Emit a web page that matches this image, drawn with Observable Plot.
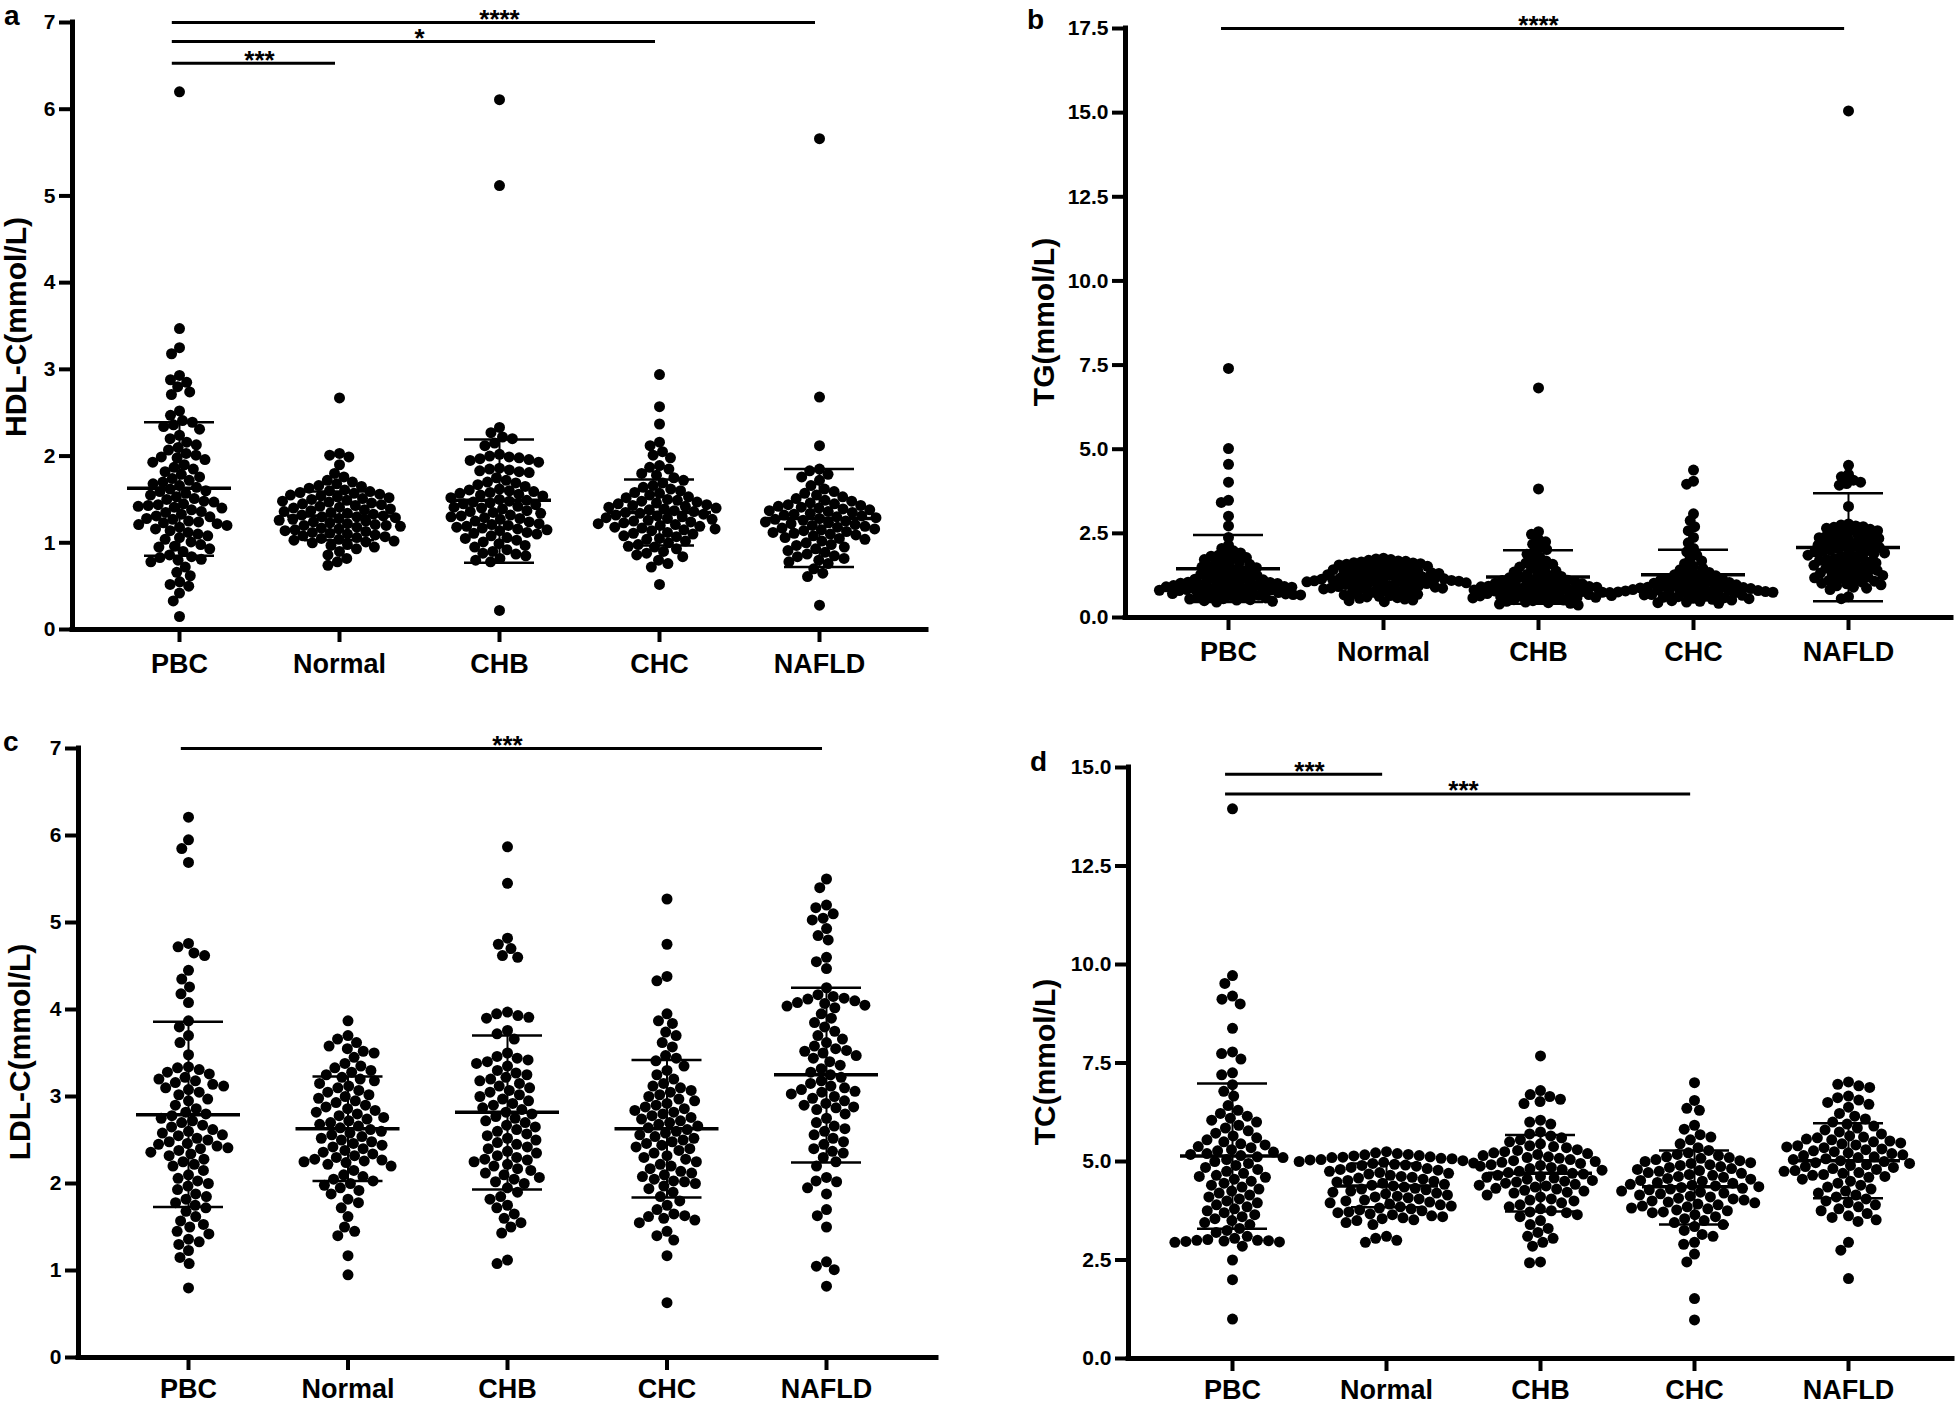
<!DOCTYPE html>
<html><head><meta charset="utf-8">
<script src="https://cdn.jsdelivr.net/npm/d3@7"></script>
<script src="https://cdn.jsdelivr.net/npm/@observablehq/plot@0.6"></script>
<style>
body{margin:0;background:#fff;}
#fig{position:relative;width:1959px;height:1404px;background:#fff;font-family:"Liberation Sans",Arial,sans-serif;font-weight:bold;color:#000;overflow:hidden;}
.panel{position:absolute;}
.panel svg{position:absolute;left:0;top:0;overflow:visible;}
.lbl{position:absolute;font-size:28px;line-height:0.8;}
.ytitle{position:absolute;font-size:30px;line-height:1;white-space:nowrap;transform:translate(-50%,-50%) rotate(-90deg);}
.axes g[aria-label="y-axis tick"] path,.axes g[aria-label="x-axis tick"] path{stroke-width:4px;}
</style></head><body><div id="fig"></div>
<script>
const groups = ["PBC","Normal","CHB","CHC","NAFLD"];

// ---- a: HDL-C ----
const hdl_PBC = [6.20,3.47,3.25,3.18,2.93,2.88,2.85,2.80,2.74,2.71,2.52,2.47,2.41,2.39,2.36,2.34,2.31,2.24,2.20,2.16,2.13,2.10,2.07,2.03,2.01,1.99,1.98,1.96,1.93,1.90,1.87,1.85,1.82,1.79,1.76,1.74,1.72,1.70,1.68,1.66,1.64,1.62,1.60,1.59,1.57,1.55,1.53,1.51,1.50,1.48,1.47,1.45,1.44,1.43,1.42,1.41,1.40,1.38,1.36,1.35,1.33,1.31,1.30,1.28,1.27,1.25,1.24,1.23,1.22,1.21,1.20,1.18,1.16,1.14,1.12,1.10,1.08,1.06,1.04,1.01,0.98,0.96,0.95,0.93,0.90,0.86,0.84,0.83,0.81,0.80,0.78,0.72,0.66,0.62,0.55,0.52,0.50,0.42,0.33,0.15];
const hdl_Normal = [2.67,2.03,2.01,1.99,1.90,1.80,1.76,1.72,1.70,1.68,1.66,1.65,1.63,1.61,1.60,1.59,1.58,1.57,1.56,1.55,1.54,1.53,1.52,1.51,1.50,1.49,1.48,1.47,1.46,1.45,1.44,1.43,1.42,1.41,1.40,1.39,1.38,1.37,1.36,1.35,1.34,1.33,1.32,1.31,1.30,1.30,1.29,1.28,1.27,1.26,1.25,1.24,1.23,1.22,1.21,1.20,1.20,1.19,1.18,1.17,1.16,1.15,1.14,1.13,1.12,1.11,1.10,1.09,1.08,1.07,1.06,1.05,1.04,1.03,1.02,1.01,1.00,0.98,0.97,0.95,0.93,0.90,0.86,0.82,0.78,0.74];
const hdl_CHB = [6.11,5.12,2.33,2.27,2.22,2.20,2.15,2.12,2.02,2.00,1.99,1.98,1.97,1.96,1.95,1.93,1.86,1.85,1.84,1.83,1.82,1.81,1.75,1.72,1.70,1.69,1.67,1.65,1.62,1.61,1.60,1.59,1.58,1.57,1.56,1.55,1.54,1.52,1.50,1.49,1.48,1.47,1.46,1.45,1.44,1.42,1.41,1.40,1.39,1.37,1.36,1.35,1.34,1.32,1.31,1.30,1.29,1.28,1.27,1.25,1.24,1.22,1.21,1.20,1.19,1.18,1.17,1.16,1.15,1.14,1.12,1.11,1.10,1.08,1.06,1.05,1.03,1.01,0.99,0.97,0.95,0.92,0.90,0.88,0.87,0.85,0.82,0.80,0.78,0.22];
const hdl_CHC = [2.94,2.57,2.37,2.16,2.12,2.05,2.01,1.98,1.89,1.87,1.85,1.80,1.78,1.75,1.72,1.69,1.66,1.64,1.62,1.60,1.58,1.57,1.55,1.53,1.52,1.50,1.49,1.48,1.47,1.46,1.45,1.44,1.43,1.42,1.41,1.40,1.39,1.38,1.37,1.36,1.35,1.34,1.33,1.32,1.31,1.30,1.29,1.28,1.27,1.26,1.25,1.24,1.23,1.22,1.21,1.20,1.19,1.18,1.17,1.16,1.15,1.14,1.12,1.11,1.10,1.08,1.07,1.05,1.04,1.02,1.00,0.98,0.96,0.95,0.93,0.90,0.88,0.86,0.84,0.80,0.76,0.72,0.52];
const hdl_NAFLD = [5.66,2.68,2.12,1.85,1.83,1.79,1.76,1.72,1.66,1.62,1.59,1.57,1.55,1.53,1.51,1.49,1.48,1.46,1.45,1.44,1.43,1.42,1.41,1.40,1.39,1.38,1.37,1.36,1.35,1.34,1.33,1.32,1.31,1.30,1.29,1.28,1.27,1.26,1.25,1.24,1.23,1.22,1.21,1.20,1.19,1.18,1.17,1.16,1.15,1.14,1.13,1.12,1.11,1.10,1.09,1.08,1.06,1.05,1.04,1.02,1.00,0.98,0.97,0.95,0.93,0.91,0.89,0.87,0.85,0.84,0.82,0.80,0.78,0.76,0.70,0.65,0.61,0.28];
const hdl_mean  = [1.63,1.31,1.49,1.35,1.28];
const hdl_upper = [2.39,1.59,2.19,1.73,1.85];
const hdl_lower = [0.85,1.03,0.77,0.97,0.72];
const hdl_sig = [{from:0,to:4,y:7.00,label:"****"},{from:0,to:3,y:6.78,label:"*"},{from:0,to:1,y:6.53,label:"***"}];

// ---- b: TG ----
const tg_PBC = [7.40,5.02,4.55,4.02,3.48,3.42,3.01,2.72,2.38,2.15,2.05,1.98,1.92,1.88,1.85,1.82,1.78,1.75,1.72,1.68,1.65,1.62,1.58,1.55,1.52,1.50,1.48,1.45,1.42,1.40,1.38,1.35,1.32,1.30,1.28,1.25,1.22,1.20,1.18,1.16,1.14,1.12,1.10,1.08,1.06,1.05,1.04,1.02,1.01,1.00,0.99,0.98,0.96,0.95,0.94,0.92,0.91,0.90,0.88,0.87,0.86,0.85,0.84,0.83,0.82,0.81,0.80,0.78,0.77,0.76,0.75,0.74,0.72,0.71,0.70,0.68,0.67,0.66,0.65,0.63,0.62,0.60,0.58,0.56,0.55,0.53,0.52,0.50,0.48,0.46];
const tg_Normal = [1.76,1.74,1.72,1.70,1.68,1.67,1.65,1.63,1.62,1.60,1.58,1.56,1.55,1.53,1.52,1.50,1.48,1.47,1.45,1.44,1.42,1.40,1.39,1.37,1.36,1.34,1.33,1.31,1.30,1.28,1.27,1.25,1.24,1.22,1.21,1.20,1.19,1.18,1.17,1.16,1.15,1.14,1.13,1.12,1.11,1.10,1.09,1.08,1.07,1.06,1.05,1.04,1.03,1.02,1.01,1.00,0.99,0.98,0.96,0.95,0.94,0.92,0.91,0.90,0.88,0.87,0.85,0.84,0.82,0.80,0.79,0.77,0.75,0.73,0.71,0.69,0.67,0.65,0.63,0.61,0.59,0.57,0.55,0.52,0.50,0.47];
const tg_CHB = [6.82,3.82,2.55,2.47,2.32,2.25,2.18,2.10,2.02,1.95,1.88,1.80,1.72,1.68,1.62,1.58,1.55,1.50,1.46,1.42,1.38,1.35,1.32,1.28,1.25,1.22,1.20,1.18,1.15,1.13,1.11,1.10,1.08,1.06,1.05,1.03,1.02,1.00,0.99,0.97,0.96,0.95,0.93,0.92,0.91,0.90,0.88,0.87,0.86,0.85,0.84,0.83,0.82,0.80,0.79,0.78,0.77,0.76,0.75,0.74,0.72,0.71,0.70,0.69,0.68,0.66,0.65,0.64,0.63,0.62,0.60,0.59,0.58,0.56,0.55,0.53,0.52,0.50,0.48,0.46,0.44,0.42,0.40,0.37];
const tg_CHC = [4.38,4.05,3.96,3.08,2.88,2.70,2.58,2.38,2.22,2.05,1.95,1.85,1.75,1.68,1.60,1.52,1.46,1.42,1.38,1.34,1.30,1.27,1.24,1.21,1.18,1.16,1.14,1.12,1.10,1.08,1.06,1.04,1.02,1.00,0.98,0.97,0.95,0.94,0.92,0.91,0.90,0.89,0.88,0.87,0.86,0.85,0.84,0.83,0.82,0.81,0.80,0.79,0.78,0.77,0.76,0.75,0.74,0.73,0.72,0.71,0.70,0.68,0.67,0.66,0.65,0.63,0.62,0.60,0.59,0.57,0.56,0.54,0.52,0.50,0.48,0.46,0.44,0.42];
const tg_NAFLD = [15.05,4.52,4.25,4.18,4.08,4.02,3.98,3.93,3.30,2.78,2.75,2.72,2.70,2.68,2.65,2.62,2.58,2.55,2.52,2.50,2.47,2.45,2.42,2.40,2.37,2.35,2.32,2.30,2.28,2.25,2.22,2.20,2.18,2.15,2.12,2.10,2.08,2.05,2.03,2.01,1.99,1.97,1.95,1.92,1.90,1.88,1.85,1.82,1.80,1.78,1.75,1.72,1.70,1.67,1.64,1.62,1.60,1.57,1.55,1.52,1.50,1.47,1.45,1.42,1.40,1.37,1.35,1.32,1.30,1.27,1.25,1.22,1.20,1.18,1.15,1.12,1.10,1.08,1.05,1.02,1.00,0.97,0.94,0.90,0.87,0.83,0.62,0.56];
const tg_mean  = [1.45,1.15,1.20,1.27,2.08];
const tg_upper = [2.45,1.45,2.00,2.01,3.69];
const tg_lower = [0.46,0.85,0.41,0.53,0.48];
const tg_sig = [{from:0,to:4,y:17.5,label:"****"}];

// ---- c: LDL-C ----
const ldl_PBC = [6.21,5.95,5.85,5.69,4.76,4.72,4.65,4.62,4.45,4.35,4.26,4.18,4.08,3.87,3.80,3.70,3.62,3.48,3.34,3.33,3.31,3.28,3.26,3.22,3.20,3.18,3.16,3.14,3.12,3.10,3.08,3.05,3.02,2.97,2.95,2.90,2.86,2.82,2.80,2.78,2.75,2.72,2.70,2.67,2.65,2.62,2.60,2.58,2.56,2.55,2.52,2.50,2.48,2.46,2.45,2.43,2.41,2.40,2.38,2.36,2.34,2.32,2.28,2.25,2.22,2.20,2.15,2.10,2.06,2.03,2.00,1.97,1.93,1.88,1.85,1.82,1.78,1.75,1.72,1.68,1.62,1.57,1.53,1.50,1.45,1.42,1.36,1.33,1.30,1.23,1.15,1.08,0.80];
const ldl_Normal = [3.87,3.70,3.66,3.62,3.58,3.55,3.52,3.50,3.45,3.38,3.35,3.33,3.30,3.28,3.25,3.22,3.20,3.18,3.15,3.12,3.10,3.07,3.05,3.02,3.00,2.98,2.95,2.93,2.90,2.88,2.86,2.84,2.82,2.80,2.78,2.76,2.74,2.72,2.70,2.68,2.66,2.64,2.62,2.60,2.58,2.56,2.54,2.52,2.50,2.48,2.46,2.44,2.42,2.40,2.38,2.36,2.34,2.32,2.30,2.28,2.27,2.26,2.25,2.24,2.22,2.20,2.15,2.10,2.08,2.05,2.03,2.00,1.98,1.95,1.92,1.88,1.82,1.78,1.72,1.62,1.50,1.45,1.40,1.17,0.95];
const ldl_CHB = [5.87,5.45,4.82,4.75,4.70,4.62,4.60,3.97,3.95,3.93,3.91,3.90,3.76,3.72,3.66,3.50,3.46,3.44,3.42,3.40,3.38,3.35,3.30,3.27,3.25,3.22,3.20,3.18,3.15,3.12,3.10,3.07,3.05,3.02,3.00,2.97,2.95,2.92,2.90,2.87,2.85,2.82,2.80,2.77,2.75,2.72,2.70,2.67,2.65,2.62,2.60,2.57,2.55,2.52,2.50,2.47,2.45,2.42,2.40,2.37,2.35,2.32,2.30,2.28,2.27,2.25,2.22,2.20,2.17,2.15,2.12,2.10,2.07,2.05,2.02,2.00,1.95,1.90,1.85,1.82,1.75,1.72,1.65,1.60,1.55,1.50,1.43,1.12,1.08];
const ldl_CHC = [5.27,4.75,4.38,4.33,3.95,3.87,3.84,3.74,3.70,3.62,3.57,3.47,3.44,3.41,3.35,3.30,3.25,3.20,3.15,3.12,3.10,3.07,3.05,3.02,3.00,2.97,2.95,2.92,2.90,2.88,2.86,2.84,2.82,2.80,2.78,2.76,2.74,2.72,2.70,2.68,2.66,2.64,2.62,2.60,2.58,2.56,2.54,2.52,2.50,2.48,2.46,2.44,2.42,2.40,2.38,2.35,2.32,2.30,2.28,2.25,2.22,2.20,2.17,2.14,2.12,2.10,2.08,2.05,2.03,2.02,2.00,1.97,1.94,1.90,1.85,1.80,1.75,1.70,1.65,1.63,1.62,1.60,1.58,1.55,1.45,1.40,1.35,1.17,0.63];
const ldl_NAFLD = [5.50,5.40,5.20,5.17,5.10,5.05,5.03,4.93,4.85,4.80,4.60,4.55,4.47,4.25,4.17,4.15,4.13,4.12,4.10,4.08,4.07,4.05,4.04,4.02,3.95,3.90,3.85,3.80,3.75,3.70,3.66,3.62,3.58,3.55,3.53,3.52,3.50,3.47,3.44,3.40,3.36,3.32,3.28,3.25,3.22,3.18,3.15,3.12,3.10,3.08,3.06,3.05,3.03,3.00,2.98,2.95,2.92,2.90,2.88,2.87,2.85,2.80,2.75,2.70,2.66,2.63,2.60,2.56,2.52,2.48,2.45,2.40,2.37,2.35,2.30,2.25,2.20,2.07,2.03,2.02,1.95,1.88,1.70,1.63,1.50,1.10,1.05,1.01,0.82];
const ldl_mean  = [2.79,2.63,2.82,2.63,3.25];
const ldl_upper = [3.86,3.23,3.70,3.42,4.25];
const ldl_lower = [1.73,2.03,1.93,1.84,2.24];
const ldl_sig = [{from:0,to:4,y:7.0,label:"***"}];

// ---- d: TC ----
const tc_PBC = [13.95,9.72,9.52,9.20,9.12,9.00,8.38,7.78,7.74,7.60,7.25,7.20,6.95,6.78,6.66,6.42,6.30,6.22,6.15,6.10,6.05,6.00,5.92,5.85,5.78,5.72,5.65,5.60,5.55,5.50,5.45,5.42,5.38,5.35,5.30,5.27,5.24,5.20,5.18,5.15,5.12,5.10,5.05,5.00,4.95,4.90,4.85,4.80,4.75,4.70,4.65,4.62,4.60,4.55,4.50,4.45,4.40,4.35,4.30,4.25,4.20,4.15,4.10,4.05,4.00,3.95,3.90,3.85,3.80,3.75,3.70,3.65,3.60,3.55,3.50,3.45,3.40,3.30,3.25,3.20,3.10,3.05,3.02,3.00,3.00,2.99,2.98,2.97,2.96,2.95,2.85,2.50,2.00,1.00];
const tc_Normal = [5.25,5.22,5.20,5.18,5.17,5.15,5.14,5.12,5.11,5.10,5.08,5.07,5.05,5.04,5.02,5.00,4.98,4.96,4.95,4.93,4.91,4.90,4.88,4.85,4.82,4.80,4.78,4.75,4.72,4.70,4.68,4.65,4.62,4.60,4.58,4.55,4.52,4.50,4.48,4.45,4.42,4.40,4.38,4.35,4.32,4.30,4.28,4.25,4.22,4.20,4.18,4.15,4.12,4.10,4.08,4.05,4.02,4.00,3.97,3.95,3.92,3.90,3.87,3.85,3.82,3.80,3.77,3.75,3.72,3.70,3.67,3.65,3.62,3.60,3.57,3.55,3.52,3.50,3.45,3.40,3.10,3.05,3.00,2.95];
const tc_CHB = [7.68,6.80,6.70,6.65,6.58,6.52,6.47,6.05,6.00,5.95,5.75,5.70,5.65,5.60,5.55,5.50,5.45,5.40,5.38,5.35,5.30,5.28,5.25,5.22,5.20,5.18,5.15,5.12,5.10,5.08,5.05,5.02,5.00,4.98,4.95,4.92,4.90,4.88,4.85,4.82,4.80,4.78,4.75,4.72,4.70,4.68,4.65,4.62,4.60,4.58,4.55,4.52,4.50,4.48,4.45,4.42,4.40,4.38,4.35,4.32,4.30,4.27,4.25,4.22,4.20,4.15,4.10,4.05,4.02,4.00,3.95,3.90,3.85,3.80,3.75,3.72,3.70,3.65,3.60,3.50,3.40,3.30,3.20,3.10,3.05,2.95,2.85,2.45,2.43];
const tc_CHC = [7.00,6.55,6.35,6.30,5.92,5.82,5.68,5.62,5.55,5.45,5.35,5.28,5.22,5.18,5.15,5.12,5.10,5.08,5.05,5.02,5.00,4.97,4.95,4.92,4.90,4.87,4.85,4.82,4.80,4.77,4.75,4.72,4.70,4.67,4.65,4.62,4.60,4.57,4.55,4.52,4.50,4.47,4.45,4.42,4.40,4.38,4.36,4.34,4.32,4.30,4.28,4.25,4.22,4.20,4.18,4.15,4.12,4.10,4.07,4.05,4.02,4.00,3.97,3.95,3.92,3.90,3.87,3.85,3.82,3.80,3.77,3.75,3.72,3.70,3.65,3.60,3.55,3.50,3.45,3.40,3.35,3.25,3.15,3.10,2.95,2.90,2.65,2.45,1.52,0.98];
const tc_NAFLD = [7.02,6.96,6.92,6.88,6.66,6.62,6.56,6.50,6.45,6.38,6.22,6.15,6.08,6.00,5.95,5.90,5.85,5.80,5.75,5.70,5.65,5.62,5.60,5.57,5.55,5.52,5.50,5.47,5.45,5.42,5.40,5.37,5.35,5.32,5.30,5.27,5.25,5.22,5.20,5.17,5.15,5.12,5.10,5.07,5.05,5.02,5.00,4.97,4.95,4.92,4.90,4.87,4.85,4.82,4.80,4.77,4.75,4.72,4.70,4.67,4.65,4.62,4.60,4.55,4.50,4.45,4.40,4.35,4.30,4.25,4.20,4.15,4.10,4.05,4.00,3.95,3.90,3.85,3.80,3.75,3.68,3.62,3.58,3.52,3.48,2.95,2.75,2.03];
const tc_mean  = [5.14,4.38,4.70,4.36,5.02];
const tc_upper = [6.98,4.95,5.67,5.28,5.97];
const tc_lower = [3.29,3.84,3.73,3.40,4.07];
const tc_sig = [{from:0,to:1,y:14.83,label:"***"},{from:0,to:3,y:14.33,label:"***"}];

// ---- tick values ----
const ticksA = [0,1,2,3,4,5,6,7];
const ticksB = [0,2.5,5,7.5,10,12.5,15,17.5];
const ticksC = [0,1,2,3,4,5,6,7];
const ticksD = [0,2.5,5,7.5,10,12.5,15];

// ---- layout (pixels) ----
const panels = [
  {letter:"a", title:"HDL-C(mmol/L)", left:0,   top:0,   W:960, H:700, mL:72,  mT:22, y0:629, end:926, first:179, ymax:7,    ticks:ticksA, fmt:d=>String(d), series:[hdl_PBC,hdl_Normal,hdl_CHB,hdl_CHC,hdl_NAFLD], mean:hdl_mean, up:hdl_upper, lo:hdl_lower, sig:hdl_sig, pad:-1, lx:4, ly:5, tx:16, ty:327, xpad:11},
  {letter:"b", title:"TG(mmol/L)",    left:980, top:0,   W:979, H:700, mL:145, mT:28, y0:617, end:971, first:248, ymax:17.5, ticks:ticksB, fmt:d3.format(".1f"), series:[tg_PBC,tg_Normal,tg_CHB,tg_CHC,tg_NAFLD], mean:tg_mean, up:tg_upper, lo:tg_lower, sig:tg_sig, pad:-3.5, lx:47, ly:9, tx:64, ty:322, xpad:11},
  {letter:"c", title:"LDL-C(mmol/L)", left:0,   top:720, W:960, H:684, mL:78,  mT:28, y0:637, end:936, first:188, ymax:7,    ticks:ticksC, fmt:d=>String(d), series:[ldl_PBC,ldl_Normal,ldl_CHB,ldl_CHC,ldl_NAFLD], mean:ldl_mean, up:ldl_upper, lo:ldl_lower, sig:ldl_sig, pad:0, lx:3, ly:11, tx:20, ty:332, xpad:8},
  {letter:"d", title:"TC(mmol/L)",    left:980, top:720, W:979, H:684, mL:148, mT:47, y0:638, end:972, first:252, ymax:15,   ticks:ticksD, fmt:d3.format(".1f"), series:[tc_PBC,tc_Normal,tc_CHB,tc_CHC,tc_NAFLD], mean:tc_mean, up:tc_upper, lo:tc_lower, sig:tc_sig, pad:0, lx:50, ly:31, tx:65, ty:342, xpad:8}
];

const fig = document.getElementById("fig");
const baseStyle = {background:"transparent", overflow:"visible", fontFamily:"'Liberation Sans', Arial, sans-serif", fontWeight:"bold", color:"black"};

for (const P of panels) {
  const div = document.createElement("div");
  div.className = "panel";
  Object.assign(div.style, {left:P.left+"px", top:P.top+"px", width:P.W+"px", height:P.H+"px"});
  fig.appendChild(div);

  const mR = P.W - P.end, mB = P.H - P.y0;
  const offset = P.first - P.mL;
  const step = (P.end - P.mL - 2*offset) / 4;
  const p = offset / step;                 // outer padding in category units
  const hm = 52/step, hc = 35/step;        // half widths of mean line / SD cap

  const rows = [];
  P.series.forEach((vals, i) => vals.forEach(v => rows.push({g: groups[i], v})));
  const stats = groups.map((g, i) => ({i, mean:P.mean[i], up:P.up[i], lo:P.lo[i]}));

  // dots layer (beeswarm via dodge, one facet per group)
  const dots = Plot.plot({
    width:P.W, height:P.H, marginLeft:P.mL, marginRight:mR, marginTop:P.mT, marginBottom:mB,
    style: baseStyle,
    facet: {data: rows, x: "g"},
    fx: {domain: groups, paddingInner: 0, paddingOuter: p - 0.5, round: false, axis: null, label: null},
    y: {domain: [0, P.ymax], axis: null},
    marks: [
      Plot.dot(rows, Plot.dodgeX({anchor: "middle", padding: P.pad}, {y: "v", r: 5.5, fill: "black", stroke: "none"}))
    ]
  });
  div.appendChild(dots);

  // axes / summary layer
  const axes = Plot.plot({
    width:P.W, height:P.H, marginLeft:P.mL, marginRight:mR, marginTop:P.mT, marginBottom:mB,
    style: baseStyle,
    x: {domain: [-p, 4 + p], label: null},
    y: {domain: [0, P.ymax], label: null},
    marks: [
      Plot.ruleY(stats, {x1: d => d.i - hm, x2: d => d.i + hm, y: "mean", strokeWidth: 3.5}),
      Plot.ruleY(stats, {x1: d => d.i - hc, x2: d => d.i + hc, y: "up", strokeWidth: 2.5}),
      Plot.ruleY(stats, {x1: d => d.i - hc, x2: d => d.i + hc, y: "lo", strokeWidth: 2.5}),
      Plot.ruleX(stats, {x: "i", y1: "lo", y2: "up", strokeWidth: 2}),
      Plot.ruleY(P.sig, {x1: d => d.from - 0.045, x2: d => d.to - 0.025, y: "y", strokeWidth: 3}),
      Plot.text(P.sig, {x: d => (d.from + d.to) / 2, y: "y", text: "label", fontSize: 26, fontWeight: "bold", dy: -3}),
      Plot.ruleY([0], {strokeWidth: 5, strokeLinecap: "square"}),
      Plot.ruleX([-p], {y1: () => 0, y2: () => P.ymax, strokeWidth: 5, strokeLinecap: "square"}),
      Plot.axisY({ticks: P.ticks, tickFormat: P.fmt, tickSize: 13, tickPadding: 4, fontSize: 21, fontWeight: "bold", label: null}),
      Plot.axisX({ticks: [0,1,2,3,4], tickFormat: i => groups[i], tickSize: 13, tickPadding: P.xpad, fontSize: 27, fontWeight: "bold", label: null})
    ]
  });
  axes.classList.add("axes");
  div.appendChild(axes);

  const lbl = document.createElement("div");
  lbl.className = "lbl"; lbl.textContent = P.letter;
  Object.assign(lbl.style, {left:P.lx+"px", top:P.ly+"px"});
  div.appendChild(lbl);

  const t = document.createElement("div");
  t.className = "ytitle"; t.textContent = P.title;
  Object.assign(t.style, {left:P.tx+"px", top:P.ty+"px"});
  div.appendChild(t);
}
</script></body></html>
